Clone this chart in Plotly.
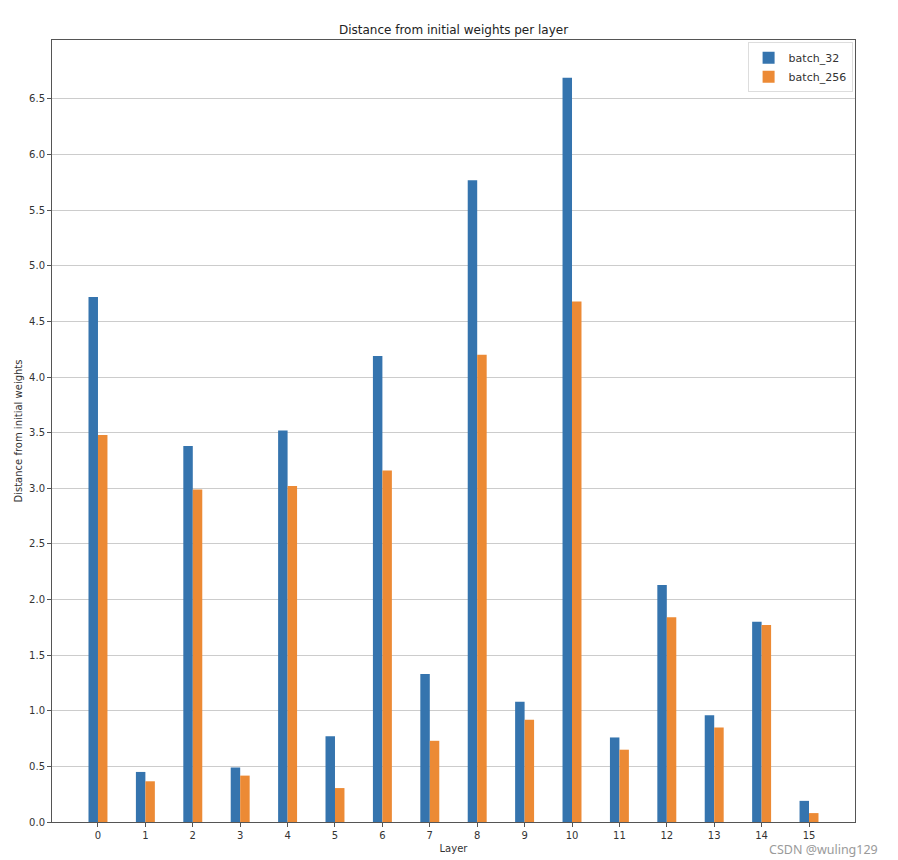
import plotly.graph_objects as go

layers = list(range(16))
batch_32 = [4.72, 0.45, 3.38, 0.49, 3.52, 0.77, 4.19, 1.33, 5.77, 1.08, 6.69, 0.76, 2.13, 0.96, 1.80, 0.19]
batch_256 = [3.48, 0.366, 2.99, 0.417, 3.02, 0.305, 3.16, 0.73, 4.20, 0.92, 4.68, 0.65, 1.84, 0.85, 1.77, 0.08]
y_ticks = [0.0, 0.5, 1.0, 1.5, 2.0, 2.5, 3.0, 3.5, 4.0, 4.5, 5.0, 5.5, 6.0, 6.5]

FONT = "DejaVu Sans, sans-serif"
BLUE = "#3574ae"
ORANGE = "#ec8a35"

# page body has an 8px margin, so the figure is sized to fit the window
W, H = 890, 852
L, R, T, B = 44, 43, 32, 38
plot_h = H - T - B

fig = go.Figure()
fig.add_trace(go.Bar(x=layers, y=batch_32, name="batch_32", width=0.2, offset=-0.2,
                     marker=dict(color=BLUE, line=dict(width=0))))
fig.add_trace(go.Bar(x=layers, y=batch_256, name="batch_256", width=0.2, offset=0.0,
                     marker=dict(color=ORANGE, line=dict(width=0))))

fig.update_layout(
    width=W, height=H,
    margin=dict(l=L, r=R, t=T, b=B),
    paper_bgcolor="white", plot_bgcolor="white",
    font=dict(family=FONT, size=10, color="#333333"),
    title=dict(text="Distance from initial weights per layer",
               x=(L + (W - R)) / 2 / W, xanchor="center",
               y=1 - 22 / H, yanchor="middle", font=dict(size=12, color="#222222")),
    showlegend=True,
    legend=dict(x=0.997, y=0.997, xanchor="right", yanchor="top",
                bgcolor="rgba(255,255,255,0.9)", bordercolor="#dddddd", borderwidth=1,
                font=dict(size=11, color="#333333"), traceorder="normal"),
    xaxis=dict(range=[-0.97, 15.97], tickvals=layers, ticktext=[str(v) for v in layers],
               automargin=False,
               showgrid=False, zeroline=False, showline=True, mirror=True,
               linecolor="#555555", linewidth=1, ticks="outside", ticklen=4, tickcolor="#555555",
               title=dict(text="Layer", font=dict(size=10), standoff=4)),
    yaxis=dict(range=[0, 7.03], tickvals=y_ticks, tickformat=".1f", automargin=False,
               showgrid=True, gridcolor="#cccccc", gridwidth=1, zeroline=False,
               showline=True, mirror=True, linecolor="#555555", linewidth=1,
               ticks="outside", ticklen=4, tickcolor="#555555",
               title=dict(text="Distance from initial weights", font=dict(size=10), standoff=4)),
    annotations=[dict(text="CSDN @wuling129", xref="paper", yref="paper",
                      x=(872 - L) / (W - R - L), y=-(841 - (H - B)) / plot_h,
                      xanchor="right", yanchor="middle", showarrow=False,
                      font=dict(size=12.5, color="#9a9a9a", family="Noto Sans, sans-serif"))],
)

fig.write_html("out.html", config={"displayModeBar": False})
